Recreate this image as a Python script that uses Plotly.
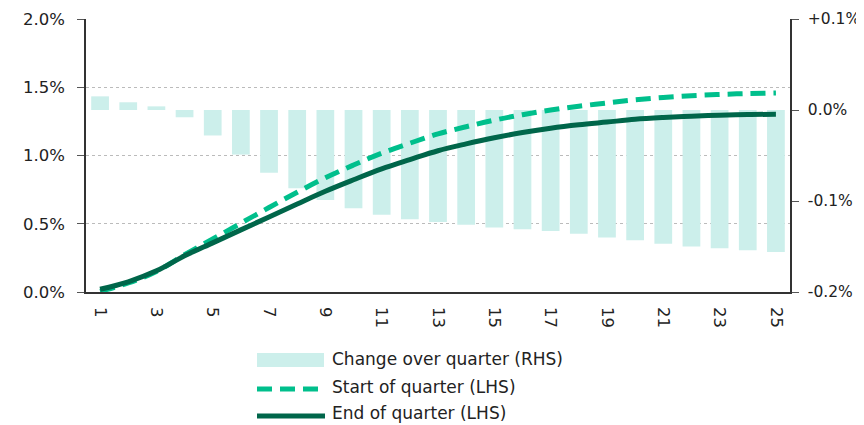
import plotly.graph_objects as go

# ---- data ----
quarters = list(range(1, 26))
change_over_quarter = [0.015, 0.0085, 0.004, -0.008, -0.028, -0.049, -0.069, -0.086, -0.099,
                       -0.108, -0.115, -0.120, -0.123, -0.126, -0.129, -0.131, -0.133, -0.136,
                       -0.140, -0.143, -0.147, -0.150, -0.152, -0.154, -0.156]
start_of_quarter = [0.005, 0.066, 0.151, 0.273, 0.388, 0.504, 0.619, 0.731, 0.837, 0.930,
                    1.017, 1.090, 1.158, 1.211, 1.259, 1.299, 1.333, 1.361, 1.385, 1.408,
                    1.425, 1.438, 1.447, 1.454, 1.458]
end_of_quarter = [0.020, 0.075, 0.155, 0.265, 0.360, 0.455, 0.550, 0.645, 0.738, 0.822,
                  0.902, 0.970, 1.035, 1.085, 1.130, 1.168, 1.200, 1.225, 1.245, 1.265,
                  1.278, 1.288, 1.295, 1.300, 1.302]
x_tick_vals = list(range(1, 26, 2))
left_ticks = [0.0, 0.5, 1.0, 1.5, 2.0]
left_tick_text = ["0.0%", "0.5%", "1.0%", "1.5%", "2.0%"]
right_ticks = [-0.2, -0.1, 0.0, 0.1]
right_tick_text = ["-0.2%", "-0.1%", "0.0%", "+0.1%"]
legend_labels = ["Change over quarter (RHS)", "Start of quarter (LHS)", "End of quarter (LHS)"]

# ---- style ----
BAR_C = "#CCEFEB"
START_C = "#00BF8C"
END_C = "#00664A"
TXT = "#222222"
AX = "#333333"
FONT = "DejaVu Sans"
TICK_SIZE = 16.5
RTICK_SIZE = 15.5
LEG_SIZE = 17

OFF = 8  # default page body margin
W, H = 864 - OFF, 425 - OFF
L, R, T, B = 86 - OFF, 74, 19 - OFF, 133
PW, PH = W - L - R, H - T - B


def px(x):
    return (x - OFF - L) / PW


def py(y):
    return (H - B - (y - OFF)) / PH


fig = go.Figure()
fig.add_trace(go.Bar(x=quarters, y=change_over_quarter, yaxis="y", marker_color=BAR_C,
                     marker_line_width=0, name=legend_labels[0], showlegend=False))
fig.add_trace(go.Scatter(x=quarters, y=start_of_quarter, yaxis="y2", mode="lines",
                         line=dict(color=START_C, width=5, dash="15px,8px", shape="spline"),
                         name=legend_labels[1], showlegend=False))
fig.add_trace(go.Scatter(x=quarters, y=end_of_quarter, yaxis="y2", mode="lines",
                         line=dict(color=END_C, width=5, shape="spline"),
                         name=legend_labels[2], showlegend=False))

# custom legend
shapes = [
    dict(type="rect", xref="paper", yref="paper", x0=px(257), x1=px(324), y0=py(367), y1=py(353),
         fillcolor=BAR_C, line_width=0),
    dict(type="line", xref="paper", yref="paper", x0=px(257), x1=px(325), y0=py(389), y1=py(389),
         line=dict(color=START_C, width=5, dash="15px,8px")),
    dict(type="line", xref="paper", yref="paper", x0=px(257), x1=px(325), y0=py(416), y1=py(416),
         line=dict(color=END_C, width=5)),
]
annotations = []
for lab, yy in zip(legend_labels, [359, 387, 413]):
    annotations.append(dict(text=lab, xref="paper", yref="paper", x=px(330), y=py(yy),
                            xanchor="left", yanchor="middle", showarrow=False,
                            font=dict(family=FONT, size=LEG_SIZE, color=TXT)))

fig.update_layout(
    width=W, height=H,
    margin=dict(l=L, r=R, t=T, b=B, pad=0),
    paper_bgcolor="white", plot_bgcolor="white",
    font=dict(family=FONT, size=TICK_SIZE, color=TXT),
    bargap=0.37,
    shapes=shapes, annotations=annotations,
    xaxis=dict(type="linear", range=[0.5, 25.5], tickvals=x_tick_vals, tickangle=90,
               showgrid=False, showline=True, linecolor=AX, linewidth=1.5, ticks="",
               zeroline=False, automargin=False, ticklabelstandoff=10,
               tickfont=dict(size=TICK_SIZE, color=TXT)),
    yaxis=dict(side="right", range=[-0.2, 0.1], tickvals=right_ticks, ticktext=right_tick_text,
               showgrid=False, zeroline=False, showline=True, linecolor=AX, linewidth=1.5,
               ticks="outside", ticklen=7, tickcolor="#555555", automargin=False,
               ticklabelstandoff=6, tickfont=dict(size=RTICK_SIZE, color=TXT)),
    yaxis2=dict(side="left", overlaying="y", range=[0, 2.0], tickvals=left_ticks,
                ticktext=left_tick_text, showgrid=True, gridcolor="#BBBBBB", griddash="dot",
                gridwidth=1, zeroline=False, showline=True, linecolor=AX, linewidth=1.5,
                ticks="outside", ticklen=7, tickcolor="#555555", automargin=False,
                ticklabelstandoff=9, tickfont=dict(size=TICK_SIZE, color=TXT)),
)

fig.write_html("out.html")
